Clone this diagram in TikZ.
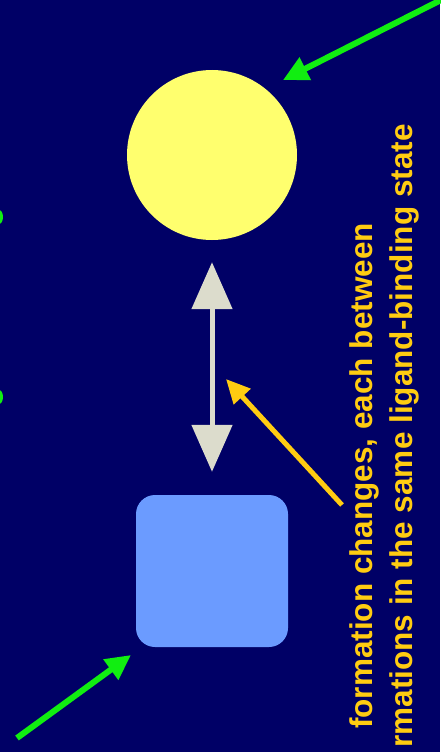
\documentclass[tikz,border=0pt]{standalone}
\usepackage{fontspec}
\setmainfont{Liberation Sans}
\usepackage{xcolor}
\usepackage{tikz}
\usetikzlibrary{
  arrows.meta,
  positioning,
  calc,
}

\definecolor{slidenavy}{HTML}{000066}
\definecolor{sunyellow}{HTML}{FFFF6E}
\definecolor{boxblue}{HTML}{6B9BFF}
\definecolor{palegrey}{HTML}{DCDCCC}
\definecolor{pointgreen}{HTML}{11EE11}
\definecolor{noteorange}{HTML}{FFCC11}

\begin{document}
\begin{tikzpicture}[
  x=1pt, y=-1pt,
  every node/.style={align=left},
  state/.style={fill=#1, draw=none, inner sep=0pt},
  note/.style={text=noteorange, font=\fontsize{31.5}{38}\selectfont\bfseries,
    rotate=90, anchor=base, inner sep=0pt},
  swap/.style={{Triangle[length=47pt, width=40pt]}-{Triangle[length=47pt, width=40pt]},
    draw=palegrey, line width=5pt},
  pointer/.style={-{Triangle[length=25pt, width=24pt]}, draw=pointgreen, line width=6pt},
  callout/.style={-{Triangle[length=24pt, width=22pt]}, draw=noteorange, line width=5pt},
]

\useasboundingbox (0,0) rectangle (440,752);
\fill[slidenavy] (0,0) rectangle (440,752);

%% the two conformations
\node[state=sunyellow, circle, minimum size=170pt] (closed) at (212,155) {};
\node[state=boxblue, rounded corners=19pt, minimum width=152pt, minimum height=152pt]
  (open) at (212,571) {};

\draw[swap, shorten <=22pt, shorten >=23pt] (closed.south) -- (open.north);

%% text, cut at the page edge
\node[note] (lineA) at (372,476) {formation changes, each between};
\node[note] (lineB) at (412,436) {rmations in the same ligand-binding state};

\coordinate (tail) at (342,505);
\coordinate (shaft) at (226,379);
\draw[callout] (tail) -- (shaft);

%% green pointers from off-page labels
\coordinate (cornerNE) at (441,0);
\coordinate (cornerSW) at (17,738);
\draw[pointer] (cornerNE) -- (283,80);
\draw[pointer] (cornerSW) -- (131,655);

\fill[pointgreen] (-1,217) ellipse (4pt and 7pt);
\fill[pointgreen] (-1,397) ellipse (4pt and 7pt);

\end{tikzpicture}
\end{document}
